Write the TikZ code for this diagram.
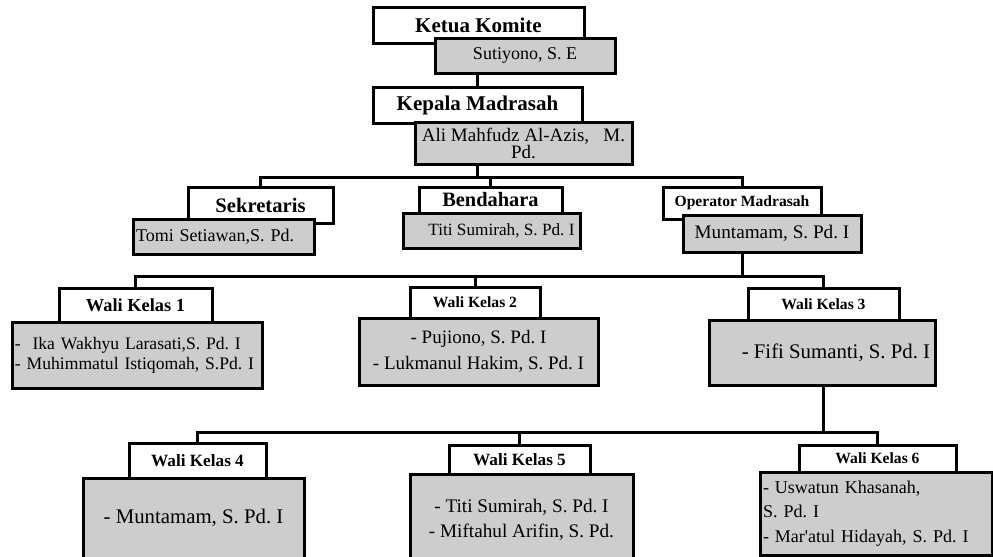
\documentclass[tikz,border=0pt]{standalone}
\usepackage{fontspec}
\setmainfont{Liberation Serif}
\usepackage{tikz}
\usetikzlibrary{positioning}
\definecolor{boxgray}{RGB}{205,205,205}

\begin{document}
\frenchspacing
\begin{tikzpicture}[
    x=0.5pt, y=-0.5pt,
    title/.style={draw, line width=1.5pt, fill=white, inner sep=1pt,
                  font=\bfseries\fontsize{#1}{#1}\selectfont},
    member/.style 2 args={draw, line width=1.5pt, fill=boxgray, inner sep=1.5pt,
                  align=center, font=\fontsize{#1}{#2}\selectfont},
    link/.style={line width=1.5pt}
]
  \useasboundingbox (0,0) rectangle (993,557);
  \clip (0,0) rectangle (993,557);

  % pimpinan
  \node[title=10.5, minimum width=105.5pt, minimum height=18pt] (ketua) at (478.5,25) {Ketua Komite};
  \node[member={9}{11}, minimum width=90pt, minimum height=17.5pt] (sutiyono) at (525,55.5) {Sutiyono, S. E};
  \node[title=10.5, minimum width=104.5pt, minimum height=18pt] (kepala) at (477.5,105) {Kepala Madrasah};
  \node[member={9.5}{8.5}, minimum width=108.5pt, minimum height=21pt] (ali) at (523.5,143)
       {Ali Mahfudz Al-Azis,\ \ \ M.\\Pd.};

  % staf
  \node[title=10.3, minimum width=72.5pt, minimum height=18pt] (sek) at (260.5,205) {Sekretaris};
  \node[member={9}{11}, text width=87.5pt, align=left, minimum height=17.5pt] (tomi) at (223.5,236.5) {Tomi Setiawan,S. Pd.};
  \node[title=10.2, minimum width=71.5pt, minimum height=13pt] (bend) at (490.5,200) {Bendahara};
  \node[member={8.6}{10}, minimum width=88.5pt, minimum height=17.5pt] (titi) at (491.5,230.5) {\hspace*{10pt}Titi Sumirah, S. Pd. I};
  \node[title=7.8, minimum width=79pt, minimum height=16pt] (opr) at (742,203) {Operator Madrasah};
  \node[member={9.6}{11}, minimum width=89pt, minimum height=18.5pt] (munt) at (772,233.5) {Muntamam, S. Pd. I};

  % wali kelas 1-3
  \node[title=9.2, minimum width=76.5pt, minimum height=17pt] (wk1) at (135.5,305) {Wali Kelas 1};
  \node[member={8.8}{10}, text width=122pt, align=left, minimum height=33pt] (wk1n) at (137,355)
       {-\ \ Ika Wakhyu Larasati,S. Pd. I\\- Muhimmatul Istiqomah, S.Pd. I};
  \node[title=7.8, minimum width=65pt, minimum height=15.5pt] (wk2) at (475,302.5) {Wali Kelas 2};
  \node[member={9.5}{13}, minimum width=119.5pt, minimum height=33.5pt] (wk2n) at (478.5,351.5)
       {- Pujiono, S. Pd. I\\- Lukmanul Hakim, S. Pd. I};
  \node[title=7.8, minimum width=75.5pt, minimum height=16pt] (wk3) at (823.5,304) {Wali Kelas 3};
  \node[member={10.4}{12}, minimum width=113pt, minimum height=32.5pt] (wk3n) at (822,352.5)
       {\hspace*{14pt}- Fifi Sumanti, S. Pd. I};

  % wali kelas 4-6
  \node[title=8.6, minimum width=68.5pt, minimum height=17.5pt] (wk4) at (197.5,460.5) {Wali Kelas 4};
  \node[member={10.4}{12}, minimum width=110.5pt, minimum height=40pt] (wk4n) at (193.5,518) {- Muntamam, S. Pd. I};
  \node[title=8.6, minimum width=70.5pt, minimum height=14.5pt] (wk5) at (519.5,459.5) {Wali Kelas 5};
  \node[member={9.6}{12.5}, minimum width=111.5pt, minimum height=46pt] (wk5n) at (521.5,520)
       {- Titi Sumirah, S. Pd. I\\- Miftahul Arifin, S. Pd.};
  \node[title=7.8, minimum width=78.5pt, minimum height=13.5pt] (wk6) at (877.5,458.5) {Wali Kelas 6};
  \node[member={9}{12.25}, text width=113pt, align=left, minimum height=41.5pt] (wk6n) at (876,513.5)
       {- Uswatun Khasanah,\\S. Pd. I\\- Mar\textquotesingle atul Hidayah, S. Pd. I};

  % garis
  \coordinate (bar1) at (0,177);
  \coordinate (bar2) at (0,276);
  \coordinate (bar3) at (0,432);
  \draw[link] (sutiyono.south -| kepala.north) -- (kepala.north);
  \draw[link] (ali.south -| kepala.north) -- (kepala.north |- bar1);
  \draw[link] (sek.north) |- (opr.north |- bar1) -- (opr.north);
  \draw[link] (bend.north) -- (bend.north |- bar1);
  \draw[link] (munt.south -| opr.north) -- (opr.north |- bar2);
  \draw[link] (wk1.north) |- (wk3.north |- bar2) -- (wk3.north);
  \draw[link] (wk2.north) -- (wk2.north |- bar2);
  \draw[link] (wk3n.south -| wk3.north) -- (wk3.north |- bar3);
  \draw[link] (wk4.north) |- (wk6.north |- bar3) -- (wk6.north);
  \draw[link] (wk5.north) -- (wk5.north |- bar3);
\end{tikzpicture}
\end{document}
